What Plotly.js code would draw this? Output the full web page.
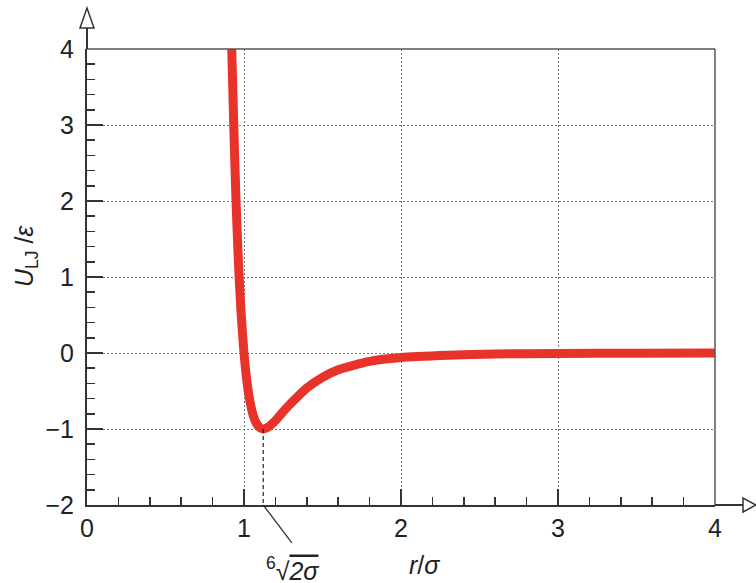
<!DOCTYPE html>
<html>
<head>
<meta charset="utf-8">
<script src="https://cdn.plot.ly/plotly-3.0.1.min.js"></script>
<style>
  html, body { margin: 0; padding: 0; background: #ffffff; }
  #chart { width: 756px; height: 583px; }
</style>
</head>
<body>
<div id="chart"></div>
<script>
// Lennard-Jones potential, reduced units: distance r/σ and energy U/ε
const rValues = [0.915, 0.922, 0.93, 0.94, 0.95, 0.96, 0.97, 0.98, 0.99, 1.00, 1.02, 1.04, 1.06,
                 1.08, 1.10, 1.1225, 1.15, 1.20, 1.25, 1.30, 1.40, 1.50, 1.60, 1.80, 2.00,
                 2.30, 2.60, 3.00, 3.50, 4.00];
const uValues = [4.80, 4.00, 3.37, 2.61, 1.96, 1.42, 0.96, 0.58, 0.27, 0.00, -0.40, -0.66, -0.83,
                 -0.93, -0.98, -1.00, -0.98, -0.89, -0.77, -0.66, -0.46, -0.32, -0.22, -0.11, -0.06,
                 -0.03, -0.013, -0.006, -0.002, -0.001];

// position of the minimum, r = 2^(1/6) σ, where U = -ε
const rMin = 1.1225;
const uMin = -1;

const xTicks = [0, 1, 2, 3, 4];
const yTicks = [-2, -1, 0, 1, 2, 3, 4];

const axisColor = '#333333';
const fontFamily = 'Liberation Sans, Arial, sans-serif';
const tickFont = { family: fontFamily, size: 25, color: '#222222' };
const labelFont = { family: fontFamily, size: 25, color: '#222222' };

const traces = [
  {
    x: rValues, y: uValues, type: 'scatter', mode: 'lines',
    line: { color: '#e8332a', width: 9, shape: 'spline', smoothing: 0.6 },
    hoverinfo: 'skip'
  },
  {
    x: [rMin, rMin], y: [uMin, -2], type: 'scatter', mode: 'lines',
    line: { color: '#222222', width: 1.2, dash: '4px,3px' },
    hoverinfo: 'skip'
  }
];

const layout = {
  width: 756, height: 583,
  margin: { l: 87, r: 41, t: 49, b: 78 },
  paper_bgcolor: '#ffffff', plot_bgcolor: '#ffffff',
  showlegend: false,
  xaxis: {
    range: [0, 4], tickvals: xTicks, ticktext: xTicks.map(String),
    showline: true, linecolor: axisColor, linewidth: 2,
    ticks: 'inside', ticklen: 16, tickwidth: 1.5, tickcolor: axisColor,
    minor: { ticks: 'inside', ticklen: 8, tickwidth: 1.5, tickcolor: axisColor, dtick: 0.2, showgrid: false },
    showgrid: true, gridcolor: '#777777', gridwidth: 1, griddash: '2px,2px',
    zeroline: false, tickfont: tickFont, ticklabelstandoff: 0,
    fixedrange: true
  },
  yaxis: {
    range: [-2, 4], tickvals: yTicks, ticktext: yTicks.map(v => v < 0 ? '\u2212' + Math.abs(v) : String(v)),
    showline: true, linecolor: axisColor, linewidth: 2,
    ticks: 'inside', ticklen: 16, tickwidth: 1.5, tickcolor: axisColor,
    minor: { ticks: 'inside', ticklen: 8, tickwidth: 1.5, tickcolor: axisColor, dtick: 0.2, showgrid: false },
    showgrid: true, gridcolor: '#777777', gridwidth: 1, griddash: '2px,2px',
    zeroline: false, tickfont: tickFont, ticklabelstandoff: 6,
    fixedrange: true
  },
  shapes: [
    // frame on the top and right
    { type: 'line', xref: 'paper', yref: 'paper', x0: 0, x1: 1, y0: 1, y1: 1, line: { color: '#555555', width: 1.5 } },
    { type: 'line', xref: 'paper', yref: 'paper', x0: 1, x1: 1, y0: 0, y1: 1, line: { color: '#555555', width: 1.5 } },
    // axis extensions ending in open arrowheads
    { type: 'line', xref: 'paper', yref: 'paper', x0: 0, x1: 0, y0: 1, y1: 1.046, line: { color: axisColor, width: 2 } },
    { type: 'path', xref: 'paper', yref: 'paper', xsizemode: 'pixel', ysizemode: 'pixel', xanchor: 0, yanchor: 1,
      path: 'M-7,21 L0,41 L7,21 Z', fillcolor: '#ffffff', line: { color: axisColor, width: 1.5 } },
    { type: 'line', xref: 'paper', yref: 'paper', x0: 1, x1: 1.0446, y0: 0, y1: 0, line: { color: axisColor, width: 2 } },
    { type: 'path', xref: 'paper', yref: 'paper', xsizemode: 'pixel', ysizemode: 'pixel', xanchor: 1, yanchor: 0,
      path: 'M28,-7 L41,0 L28,7 Z', fillcolor: '#ffffff', line: { color: axisColor, width: 1.5 } },
    // pointer from the minimum position to its label
    { type: 'line', xref: 'x', yref: 'paper', x0: rMin, y0: 0, x1: 1.305, y1: -0.083, line: { color: axisColor, width: 1.3 } }
  ],
  annotations: [
    { xref: 'paper', yref: 'paper', x: 0.328, y: -0.14, xanchor: 'center', yanchor: 'middle', showarrow: false,
      text: '<sup>6</sup>\u221A<span style="text-decoration:overline"><i>2σ</i></span>',
      font: labelFont },
    { xref: 'paper', yref: 'paper', x: 0.538, y: -0.132, xanchor: 'center', yanchor: 'middle', showarrow: false,
      text: '<i>r</i>/<i>σ</i>',
      font: labelFont },
    { xref: 'paper', yref: 'paper', x: -0.097, y: 0.546, xanchor: 'center', yanchor: 'middle', showarrow: false, textangle: -90,
      text: '<i>U</i><sub>LJ</sub> /<i>ε</i>',
      font: labelFont }
  ]
};

Plotly.newPlot('chart', traces, layout, { staticPlot: true, displayModeBar: false });
</script>
</body>
</html>
